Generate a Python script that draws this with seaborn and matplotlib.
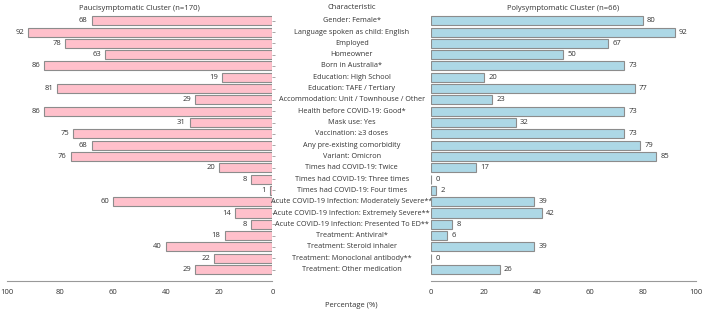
import matplotlib
matplotlib.use("Agg")
import matplotlib.pyplot as plt
import matplotlib.transforms as mtransforms
import seaborn as sns
import pandas as pd

characteristics = [
    "Gender: Female*",
    "Language spoken as child: English",
    "Employed",
    "Homeowner",
    "Born in Australia*",
    "Education: High School",
    "Education: TAFE / Tertiary",
    "Accommodation: Unit / Townhouse / Other",
    "Health before COVID-19: Good*",
    "Mask use: Yes",
    "Vaccination: \u22653 doses",
    "Any pre-existing comorbidity",
    "Variant: Omicron",
    "Times had COVID-19: Twice",
    "Times had COVID-19: Three times",
    "Times had COVID-19: Four times",
    "Acute COVID-19 Infection: Moderately Severe**",
    "Acute COVID-19 Infection: Extremely Severe**",
    "Acute COVID-19 Infection: Presented To ED**",
    "Treatment: Antiviral*",
    "Treatment: Steroid inhaler",
    "Treatment: Monoclonal antibody**",
    "Treatment: Other medication",
]
pauci = [68, 92, 78, 63, 86, 19, 81, 29, 86, 31, 75, 68, 76, 20, 8, 1, 60, 14, 8, 18, 40, 22, 29]
poly = [80, 92, 67, 50, 73, 20, 77, 23, 73, 32, 73, 79, 85, 17, 0, 2, 39, 42, 8, 6, 39, 0, 26]
ticks = [0, 20, 40, 60, 80, 100]

df = pd.DataFrame({"Characteristic": characteristics, "Pauci": pauci, "Poly": poly})

sns.set_style("white")
plt.rcParams["font.family"] = ["Open Sans", "DejaVu Sans"]
text_col = "#333333"
spine_col = "#999999"
fs = 5.5
fs_cat = 5.2

fig = plt.figure(figsize=(7.02, 3.10), dpi=100)
ax_l = fig.add_axes([0.010, 0.094, 0.378, 0.861])
ax_r = fig.add_axes([0.614, 0.094, 0.377, 0.861])

sns.barplot(data=df, x="Pauci", y="Characteristic", ax=ax_l, color="#FFC0CB",
            saturation=1, edgecolor="#8c8c8c", linewidth=0.8, width=0.8)
sns.barplot(data=df, x="Poly", y="Characteristic", ax=ax_r, color="#ADD8E6",
            saturation=1, edgecolor="#8c8c8c", linewidth=0.8, width=0.8)

for ax in (ax_l, ax_r):
    ax.set_xlim(0, 100)
    ax.set_ylim(23.0, -0.6)
    ax.set_xticks(ticks)
    ax.set_xlabel("")
    ax.set_ylabel("")
    ax.set_yticklabels([])
    for s in ("top", "left", "right"):
        ax.spines[s].set_visible(False)
    ax.spines["bottom"].set_color(spine_col)
    ax.tick_params(axis="x", colors=spine_col, labelcolor=text_col, labelsize=fs,
                   length=4, width=0.8, direction="out", pad=2)
    ax.tick_params(axis="y", colors=spine_col, length=2.5, width=0.6)

ax_l.invert_xaxis()
ax_l.yaxis.tick_right()

# value labels
for i, v in enumerate(pauci):
    ax_l.annotate(str(v), (v, i), xytext=(-3, 0), textcoords="offset points",
                  ha="right", va="center", fontsize=fs, color=text_col)
for i, v in enumerate(poly):
    ax_r.annotate(str(v), (v, i), xytext=(3, 0), textcoords="offset points",
                  ha="left", va="center", fontsize=fs, color=text_col)

ax_l.set_title("Paucisymptomatic Cluster (n=170)", fontsize=fs, color=text_col, pad=3)
ax_r.set_title("Polysymptomatic Cluster (n=66)", fontsize=fs, color=text_col, pad=3)

# category labels in the gap between the two panels
trans = mtransforms.blended_transform_factory(fig.transFigure, ax_l.transData)
for i, c in enumerate(characteristics):
    ax_l.text(0.501, i, c, transform=trans, ha="center", va="center",
              fontsize=fs_cat, color=text_col, clip_on=False)
fig.text(0.501, 0.955 + 0.01, "Characteristic", ha="center", va="bottom",
         fontsize=fs, color=text_col)
fig.text(0.501, 0.002, "Percentage (%)", ha="center", va="bottom",
         fontsize=fs, color=text_col)

fig.savefig("out.png", dpi=100)
